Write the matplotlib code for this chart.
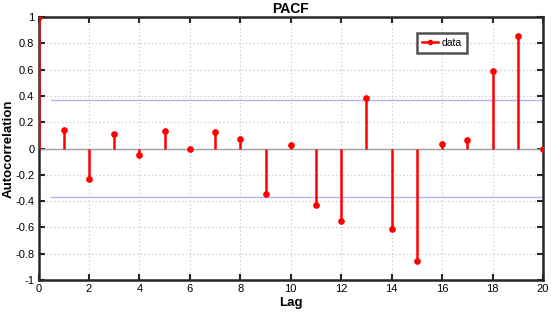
import numpy as np
import matplotlib.pyplot as plt

plt.rcParams['font.family'] = ['Liberation Sans', 'DejaVu Sans']

lags = np.arange(0, 21)
pacf = [1.0, 0.14, -0.232, 0.108, -0.052, 0.135, 0.0, 0.123, 0.072, -0.343, 0.03,
        -0.432, -0.549, 0.384, -0.61, -0.855, 0.037, 0.062, 0.589, 0.855, 0.0]
conf = 0.367

fig = plt.figure(figsize=(5.51, 3.17), dpi=100)
ax = fig.add_axes([0.0699, 0.117, 0.9156, 0.829])

ax.grid(True, color='#c8c8c8', linestyle=(0, (1, 2)), linewidth=0.9)
ax.set_axisbelow(True)

ax.plot([0.5, 20], [conf, conf], color='#b4b4f0', linewidth=1.0, zorder=1)
ax.plot([0.5, 20], [-conf, -conf], color='#b4b4f0', linewidth=1.0, zorder=1)
ax.axhline(0, color='#a0a0a0', linewidth=1.0, zorder=1)

ax.vlines(lags, 0, pacf, color='red', linewidth=1.8, zorder=3)
ax.plot(lags, pacf, 'o', color='red', markersize=3.8, zorder=4)
ax.plot([], [], '-o', color='red', linewidth=1.8, markersize=3, label='data')

ax.set_xlim(0, 20)
ax.set_ylim(-1, 1)
ax.set_xticks(np.arange(0, 21, 2))
ax.set_yticks(np.round(np.arange(-1, 1.01, 0.2), 1))
ax.set_yticklabels(['-1', '-0.8', '-0.6', '-0.4', '-0.2', '0', '0.2', '0.4', '0.6', '0.8', '1'])
ax.tick_params(direction='in', top=True, right=True, length=4, width=1.5,
               labelsize=8, color='#262626', pad=3)
for s in ax.spines.values():
    s.set_linewidth(1.8)
    s.set_color('#262626')

ax.set_title('PACF', fontsize=10, fontweight='bold', pad=3)
ax.set_xlabel('Lag', fontsize=9.5, fontweight='bold', labelpad=2)
ax.set_ylabel('Autocorrelation', fontsize=9.5, fontweight='bold')
ax.yaxis.set_label_coords(-0.047, 0.5)

leg = ax.legend(loc='upper left', bbox_to_anchor=(0.74, 0.96), fontsize=7.5,
                fancybox=False, handlelength=1.5, borderpad=0.5, handletextpad=0.4)
leg.get_frame().set_edgecolor('#262626')
leg.get_frame().set_linewidth(1.8)

fig.savefig('out.png', dpi=100)
